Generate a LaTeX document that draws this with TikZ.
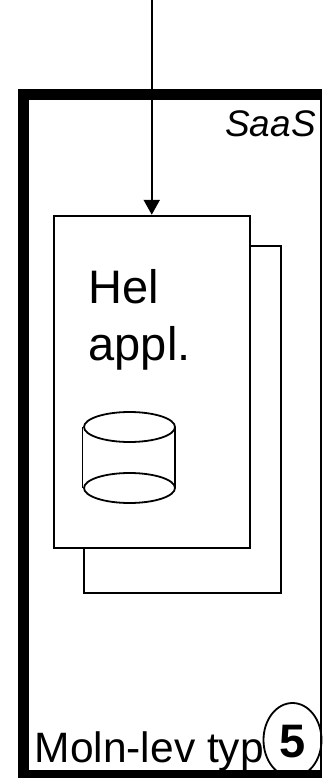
\documentclass[tikz,border=0pt]{standalone}
\usepackage{fontspec}
\setmainfont{Liberation Sans}
\usetikzlibrary{arrows.meta, shapes.geometric}
\tikzset{
  box/.style={draw=black, line width=2pt, fill=white, inner sep=0pt},
  lbl/.style={inner sep=0pt, anchor=base west},
}
\begin{document}
\begin{tikzpicture}[x=1pt, y=-1pt, >={Triangle[width=16pt,length=15pt]}]
	\useasboundingbox (0,0) rectangle (322,778);
	\fill[white] (0,0) rectangle (322,778);

	% typ-ringen ligger under ramen
	\node[draw=black, line width=1.8pt, ellipse, minimum width=58pt, minimum height=74pt, inner sep=0pt] (ring) at (292.5,740) {};
	\node[lbl, font=\bfseries\fontsize{47}{47}\selectfont] (num) at (279.5,757) {5};

	% ramen
	\draw[line width=2pt] (321,94) -- (321,774);
	\fill[black] (18,89) rectangle (322,100);
	\fill[black] (18,89) rectangle (29,778);
	\fill[black] (18,770) rectangle (322,778);

	% text i ramen
	\node[lbl, font=\itshape\fontsize{37}{37}\selectfont] (saas) at (225,137) {SaaS};
	\node[lbl, font=\fontsize{42.5}{42.5}\selectfont] (moln) at (34.5,762) {Moln-lev typ};

	% rutorna
	\node[box, minimum width=196.5pt, minimum height=347.5pt] (back) at (182.25,419.25) {};
	\node[box, minimum width=196.5pt, minimum height=332.5pt] (front) at (151.75,382) {};
	\node[lbl, font=\fontsize{47}{47}\selectfont] (hel) at (88.5,303) {Hel};
	\node[lbl, font=\fontsize{47}{47}\selectfont] (appl) at (88.5,360) {appl.};

	% cylindern
	\draw[line width=1.8pt] (82.5,427) -- (82.5,488) (175,427) -- (175,488);
	\draw[line width=1.8pt, fill=white] (129.5,427) ellipse (45.5 and 15);
	\draw[line width=1.8pt, fill=white] (129.5,488) ellipse (45.5 and 15);

	% pilen
	\coordinate (start) at (front.north |- 0,-2);
	\draw[->, line width=2.4pt] (start) -- (front.north);
\end{tikzpicture}
\end{document}
